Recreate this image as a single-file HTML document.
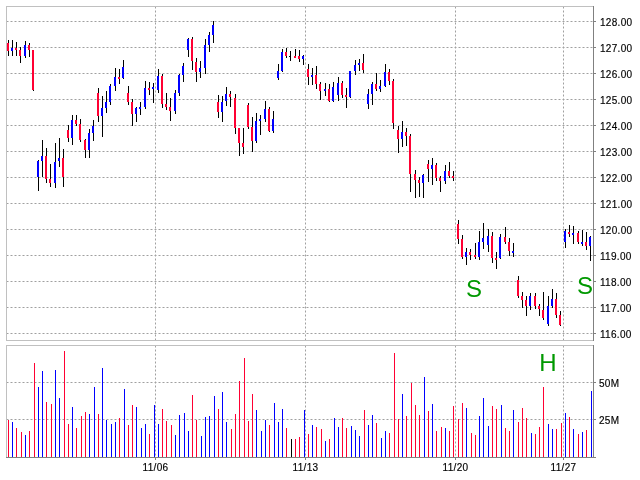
<!DOCTYPE html><html><head><meta charset="utf-8"><style>html,body{margin:0;padding:0;background:#fff;width:640px;height:480px;overflow:hidden}svg{display:block}text{font-family:"Liberation Sans",Arial,sans-serif}</style></head><body>
<svg width="640" height="480" viewBox="0 0 640 480">
<rect x="0" y="0" width="640" height="480" fill="#fff"/>
<g shape-rendering="crispEdges">
</g><g>
<line x1="6.5" y1="21.5" x2="593" y2="21.5" stroke="#a0a0a0" stroke-width="1" stroke-dasharray="2 2"/>
<line x1="6.5" y1="47.5" x2="593" y2="47.5" stroke="#a0a0a0" stroke-width="1" stroke-dasharray="2 2"/>
<line x1="6.5" y1="73.5" x2="593" y2="73.5" stroke="#a0a0a0" stroke-width="1" stroke-dasharray="2 2"/>
<line x1="6.5" y1="99.5" x2="593" y2="99.5" stroke="#a0a0a0" stroke-width="1" stroke-dasharray="2 2"/>
<line x1="6.5" y1="125.5" x2="593" y2="125.5" stroke="#a0a0a0" stroke-width="1" stroke-dasharray="2 2"/>
<line x1="6.5" y1="151.5" x2="593" y2="151.5" stroke="#a0a0a0" stroke-width="1" stroke-dasharray="2 2"/>
<line x1="6.5" y1="177.5" x2="593" y2="177.5" stroke="#a0a0a0" stroke-width="1" stroke-dasharray="2 2"/>
<line x1="6.5" y1="203.5" x2="593" y2="203.5" stroke="#a0a0a0" stroke-width="1" stroke-dasharray="2 2"/>
<line x1="6.5" y1="229.5" x2="593" y2="229.5" stroke="#a0a0a0" stroke-width="1" stroke-dasharray="2 2"/>
<line x1="6.5" y1="255.5" x2="593" y2="255.5" stroke="#a0a0a0" stroke-width="1" stroke-dasharray="2 2"/>
<line x1="6.5" y1="281.5" x2="593" y2="281.5" stroke="#a0a0a0" stroke-width="1" stroke-dasharray="2 2"/>
<line x1="6.5" y1="307.5" x2="593" y2="307.5" stroke="#a0a0a0" stroke-width="1" stroke-dasharray="2 2"/>
<line x1="6.5" y1="333.5" x2="593" y2="333.5" stroke="#a0a0a0" stroke-width="1" stroke-dasharray="2 2"/>
<line x1="6.5" y1="382.5" x2="593" y2="382.5" stroke="#a0a0a0" stroke-width="1" stroke-dasharray="2 2"/>
<line x1="6.5" y1="419.5" x2="593" y2="419.5" stroke="#a0a0a0" stroke-width="1" stroke-dasharray="2 2"/>
<line x1="155.5" y1="6.5" x2="155.5" y2="340" stroke="#a0a0a0" stroke-width="1" stroke-dasharray="2 2"/>
<line x1="155.5" y1="345.5" x2="155.5" y2="457" stroke="#a0a0a0" stroke-width="1" stroke-dasharray="2 2"/>
<line x1="305.5" y1="6.5" x2="305.5" y2="340" stroke="#a0a0a0" stroke-width="1" stroke-dasharray="2 2"/>
<line x1="305.5" y1="345.5" x2="305.5" y2="457" stroke="#a0a0a0" stroke-width="1" stroke-dasharray="2 2"/>
<line x1="455.5" y1="6.5" x2="455.5" y2="340" stroke="#a0a0a0" stroke-width="1" stroke-dasharray="2 2"/>
<line x1="455.5" y1="345.5" x2="455.5" y2="457" stroke="#a0a0a0" stroke-width="1" stroke-dasharray="2 2"/>
<line x1="563.5" y1="6.5" x2="563.5" y2="340" stroke="#a0a0a0" stroke-width="1" stroke-dasharray="2 2"/>
<line x1="563.5" y1="345.5" x2="563.5" y2="457" stroke="#a0a0a0" stroke-width="1" stroke-dasharray="2 2"/>
</g><g shape-rendering="crispEdges">
<rect x="6" y="6" width="588" height="1" fill="#c0c0c0"/>
<rect x="6" y="6" width="1" height="335" fill="#c0c0c0"/>
<rect x="6" y="340" width="588" height="1" fill="#c0c0c0"/>
<rect x="593" y="6" width="1" height="335" fill="#808080"/>
<rect x="6" y="345" width="588" height="1" fill="#c0c0c0"/>
<rect x="6" y="345" width="1" height="113" fill="#c0c0c0"/>
<rect x="6" y="457" width="590" height="1" fill="#808080"/>
<rect x="593" y="345" width="1" height="113" fill="#808080"/>
<rect x="594" y="21" width="2" height="1" fill="#808080"/>
<rect x="594" y="47" width="2" height="1" fill="#808080"/>
<rect x="594" y="73" width="2" height="1" fill="#808080"/>
<rect x="594" y="99" width="2" height="1" fill="#808080"/>
<rect x="594" y="125" width="2" height="1" fill="#808080"/>
<rect x="594" y="151" width="2" height="1" fill="#808080"/>
<rect x="594" y="177" width="2" height="1" fill="#808080"/>
<rect x="594" y="203" width="2" height="1" fill="#808080"/>
<rect x="594" y="229" width="2" height="1" fill="#808080"/>
<rect x="594" y="255" width="2" height="1" fill="#808080"/>
<rect x="594" y="281" width="2" height="1" fill="#808080"/>
<rect x="594" y="307" width="2" height="1" fill="#808080"/>
<rect x="594" y="333" width="2" height="1" fill="#808080"/>
<rect x="594" y="382" width="2" height="1" fill="#808080"/>
<rect x="594" y="419" width="2" height="1" fill="#808080"/>
<rect x="155" y="458" width="1" height="2" fill="#808080"/>
<rect x="305" y="458" width="1" height="2" fill="#808080"/>
<rect x="455" y="458" width="1" height="2" fill="#808080"/>
<rect x="563" y="458" width="1" height="2" fill="#808080"/>
</g>
<g shape-rendering="crispEdges">
<rect x="464" y="275" width="22" height="26" fill="#fff"/>
<rect x="573" y="272" width="20" height="26" fill="#fff"/>
<rect x="537" y="350" width="22" height="25" fill="#fff"/>
</g>
<text x="474" y="297" font-size="24" fill="#009900" text-anchor="middle">S</text>
<text x="585" y="294" font-size="24" fill="#009900" text-anchor="middle">S</text>
<text x="547.9" y="371" font-size="24" fill="#009900" text-anchor="middle">H</text>
<g shape-rendering="crispEdges">
<rect x="8" y="40" width="1" height="16" fill="#000"/>
<rect x="7" y="43" width="2" height="8" fill="#ff0033"/>
<rect x="8" y="420" width="1" height="37" fill="#ff0033"/>
<rect x="12" y="40" width="1" height="16" fill="#000"/>
<rect x="11" y="48" width="2" height="3" fill="#0000ff"/>
<rect x="12" y="422" width="1" height="35" fill="#0000ff"/>
<rect x="16" y="42" width="1" height="14" fill="#000"/>
<rect x="15" y="48" width="2" height="2" fill="#ff0033"/>
<rect x="16" y="428" width="1" height="29" fill="#ff0033"/>
<rect x="20" y="47" width="1" height="16" fill="#000"/>
<rect x="19" y="50" width="2" height="6" fill="#ff0033"/>
<rect x="21" y="432" width="1" height="25" fill="#ff0033"/>
<rect x="25" y="41" width="1" height="17" fill="#000"/>
<rect x="24" y="45" width="2" height="11" fill="#0000ff"/>
<rect x="25" y="435" width="1" height="22" fill="#0000ff"/>
<rect x="29" y="43" width="1" height="14" fill="#000"/>
<rect x="28" y="45" width="2" height="5" fill="#ff0033"/>
<rect x="29" y="431" width="1" height="26" fill="#ff0033"/>
<rect x="33" y="50" width="1" height="41" fill="#000"/>
<rect x="32" y="50" width="2" height="40" fill="#ff0033"/>
<rect x="34" y="363" width="1" height="94" fill="#ff0033"/>
<rect x="38" y="160" width="1" height="31" fill="#000"/>
<rect x="37" y="161" width="2" height="16" fill="#0000ff"/>
<rect x="38" y="387" width="1" height="70" fill="#0000ff"/>
<rect x="42" y="140" width="1" height="37" fill="#000"/>
<rect x="41" y="156" width="2" height="5" fill="#0000ff"/>
<rect x="42" y="371" width="1" height="86" fill="#0000ff"/>
<rect x="46" y="148" width="1" height="35" fill="#000"/>
<rect x="45" y="156" width="2" height="23" fill="#ff0033"/>
<rect x="46" y="402" width="1" height="55" fill="#ff0033"/>
<rect x="50" y="164" width="1" height="23" fill="#000"/>
<rect x="49" y="179" width="2" height="4" fill="#ff0033"/>
<rect x="51" y="404" width="1" height="53" fill="#ff0033"/>
<rect x="55" y="143" width="1" height="45" fill="#000"/>
<rect x="54" y="162" width="2" height="21" fill="#0000ff"/>
<rect x="55" y="370" width="1" height="87" fill="#0000ff"/>
<rect x="59" y="138" width="1" height="29" fill="#000"/>
<rect x="58" y="158" width="2" height="3" fill="#0000ff"/>
<rect x="59" y="398" width="1" height="59" fill="#0000ff"/>
<rect x="63" y="149" width="1" height="38" fill="#000"/>
<rect x="62" y="158" width="2" height="19" fill="#ff0033"/>
<rect x="64" y="351" width="1" height="106" fill="#ff0033"/>
<rect x="68" y="125" width="1" height="17" fill="#000"/>
<rect x="67" y="130" width="2" height="8" fill="#ff0033"/>
<rect x="68" y="424" width="1" height="33" fill="#ff0033"/>
<rect x="72" y="115" width="1" height="30" fill="#000"/>
<rect x="71" y="120" width="2" height="18" fill="#0000ff"/>
<rect x="72" y="407" width="1" height="50" fill="#0000ff"/>
<rect x="76" y="115" width="1" height="11" fill="#000"/>
<rect x="75" y="120" width="2" height="4" fill="#ff0033"/>
<rect x="76" y="428" width="1" height="29" fill="#ff0033"/>
<rect x="80" y="119" width="1" height="23" fill="#000"/>
<rect x="79" y="124" width="2" height="16" fill="#ff0033"/>
<rect x="81" y="416" width="1" height="41" fill="#ff0033"/>
<rect x="85" y="139" width="1" height="19" fill="#000"/>
<rect x="84" y="140" width="2" height="10" fill="#ff0033"/>
<rect x="85" y="412" width="1" height="45" fill="#ff0033"/>
<rect x="89" y="129" width="1" height="29" fill="#000"/>
<rect x="88" y="133" width="2" height="17" fill="#0000ff"/>
<rect x="89" y="414" width="1" height="43" fill="#0000ff"/>
<rect x="93" y="120" width="1" height="21" fill="#000"/>
<rect x="92" y="126" width="2" height="7" fill="#0000ff"/>
<rect x="94" y="387" width="1" height="70" fill="#0000ff"/>
<rect x="98" y="88" width="1" height="34" fill="#000"/>
<rect x="97" y="93" width="2" height="23" fill="#ff0033"/>
<rect x="98" y="414" width="1" height="43" fill="#ff0033"/>
<rect x="102" y="96" width="1" height="41" fill="#000"/>
<rect x="101" y="108" width="2" height="8" fill="#0000ff"/>
<rect x="102" y="368" width="1" height="89" fill="#0000ff"/>
<rect x="106" y="91" width="1" height="22" fill="#000"/>
<rect x="105" y="102" width="2" height="6" fill="#0000ff"/>
<rect x="106" y="420" width="1" height="37" fill="#0000ff"/>
<rect x="110" y="84" width="1" height="21" fill="#000"/>
<rect x="109" y="86" width="2" height="16" fill="#0000ff"/>
<rect x="111" y="424" width="1" height="33" fill="#0000ff"/>
<rect x="115" y="68" width="1" height="23" fill="#000"/>
<rect x="114" y="77" width="2" height="9" fill="#0000ff"/>
<rect x="115" y="422" width="1" height="35" fill="#0000ff"/>
<rect x="119" y="69" width="1" height="15" fill="#000"/>
<rect x="118" y="77" width="2" height="2" fill="#ff0033"/>
<rect x="119" y="418" width="1" height="39" fill="#ff0033"/>
<rect x="123" y="60" width="1" height="19" fill="#000"/>
<rect x="122" y="67" width="2" height="11" fill="#0000ff"/>
<rect x="124" y="389" width="1" height="68" fill="#0000ff"/>
<rect x="128" y="86" width="1" height="19" fill="#000"/>
<rect x="127" y="93" width="2" height="9" fill="#ff0033"/>
<rect x="128" y="425" width="1" height="32" fill="#ff0033"/>
<rect x="132" y="99" width="1" height="27" fill="#000"/>
<rect x="131" y="102" width="2" height="12" fill="#ff0033"/>
<rect x="132" y="405" width="1" height="52" fill="#ff0033"/>
<rect x="136" y="107" width="1" height="15" fill="#000"/>
<rect x="135" y="108" width="2" height="6" fill="#0000ff"/>
<rect x="136" y="407" width="1" height="50" fill="#0000ff"/>
<rect x="140" y="102" width="1" height="13" fill="#000"/>
<rect x="139" y="107" width="2" height="2" fill="#0000ff"/>
<rect x="141" y="428" width="1" height="29" fill="#0000ff"/>
<rect x="145" y="81" width="1" height="28" fill="#000"/>
<rect x="144" y="88" width="2" height="19" fill="#0000ff"/>
<rect x="145" y="424" width="1" height="33" fill="#0000ff"/>
<rect x="149" y="82" width="1" height="13" fill="#000"/>
<rect x="148" y="88" width="2" height="2" fill="#ff0033"/>
<rect x="149" y="434" width="1" height="23" fill="#ff0033"/>
<rect x="153" y="83" width="1" height="20" fill="#000"/>
<rect x="152" y="87" width="2" height="2" fill="#0000ff"/>
<rect x="154" y="405" width="1" height="52" fill="#0000ff"/>
<rect x="158" y="69" width="1" height="24" fill="#000"/>
<rect x="157" y="76" width="2" height="14" fill="#0000ff"/>
<rect x="158" y="424" width="1" height="33" fill="#0000ff"/>
<rect x="162" y="74" width="1" height="34" fill="#000"/>
<rect x="161" y="76" width="2" height="28" fill="#ff0033"/>
<rect x="162" y="409" width="1" height="48" fill="#ff0033"/>
<rect x="166" y="93" width="1" height="17" fill="#000"/>
<rect x="165" y="104" width="2" height="3" fill="#ff0033"/>
<rect x="166" y="421" width="1" height="36" fill="#ff0033"/>
<rect x="170" y="98" width="1" height="23" fill="#000"/>
<rect x="169" y="107" width="2" height="4" fill="#ff0033"/>
<rect x="171" y="425" width="1" height="32" fill="#ff0033"/>
<rect x="175" y="90" width="1" height="24" fill="#000"/>
<rect x="174" y="93" width="2" height="18" fill="#0000ff"/>
<rect x="175" y="435" width="1" height="22" fill="#0000ff"/>
<rect x="179" y="74" width="1" height="22" fill="#000"/>
<rect x="178" y="75" width="2" height="18" fill="#0000ff"/>
<rect x="179" y="415" width="1" height="42" fill="#0000ff"/>
<rect x="183" y="63" width="1" height="19" fill="#000"/>
<rect x="182" y="66" width="2" height="9" fill="#0000ff"/>
<rect x="184" y="413" width="1" height="44" fill="#0000ff"/>
<rect x="188" y="38" width="1" height="19" fill="#000"/>
<rect x="187" y="39" width="2" height="11" fill="#0000ff"/>
<rect x="188" y="431" width="1" height="26" fill="#0000ff"/>
<rect x="192" y="37" width="1" height="33" fill="#000"/>
<rect x="191" y="39" width="2" height="22" fill="#ff0033"/>
<rect x="192" y="395" width="1" height="62" fill="#ff0033"/>
<rect x="196" y="58" width="1" height="24" fill="#000"/>
<rect x="195" y="62" width="2" height="10" fill="#ff0033"/>
<rect x="196" y="420" width="1" height="37" fill="#ff0033"/>
<rect x="200" y="61" width="1" height="17" fill="#000"/>
<rect x="199" y="68" width="2" height="4" fill="#0000ff"/>
<rect x="201" y="436" width="1" height="21" fill="#0000ff"/>
<rect x="205" y="39" width="1" height="35" fill="#000"/>
<rect x="204" y="45" width="2" height="23" fill="#0000ff"/>
<rect x="205" y="417" width="1" height="40" fill="#0000ff"/>
<rect x="209" y="32" width="1" height="20" fill="#000"/>
<rect x="208" y="35" width="2" height="10" fill="#0000ff"/>
<rect x="209" y="416" width="1" height="41" fill="#0000ff"/>
<rect x="213" y="21" width="1" height="22" fill="#000"/>
<rect x="212" y="25" width="2" height="10" fill="#0000ff"/>
<rect x="214" y="396" width="1" height="61" fill="#0000ff"/>
<rect x="218" y="95" width="1" height="23" fill="#000"/>
<rect x="217" y="102" width="2" height="10" fill="#ff0033"/>
<rect x="218" y="409" width="1" height="48" fill="#ff0033"/>
<rect x="222" y="96" width="1" height="26" fill="#000"/>
<rect x="221" y="102" width="2" height="10" fill="#0000ff"/>
<rect x="222" y="392" width="1" height="65" fill="#0000ff"/>
<rect x="226" y="87" width="1" height="19" fill="#000"/>
<rect x="225" y="94" width="2" height="7" fill="#0000ff"/>
<rect x="226" y="422" width="1" height="35" fill="#0000ff"/>
<rect x="230" y="91" width="1" height="16" fill="#000"/>
<rect x="229" y="94" width="2" height="3" fill="#ff0033"/>
<rect x="231" y="429" width="1" height="28" fill="#ff0033"/>
<rect x="235" y="94" width="1" height="40" fill="#000"/>
<rect x="234" y="98" width="2" height="30" fill="#ff0033"/>
<rect x="235" y="414" width="1" height="43" fill="#ff0033"/>
<rect x="239" y="128" width="1" height="28" fill="#000"/>
<rect x="238" y="128" width="2" height="15" fill="#ff0033"/>
<rect x="239" y="381" width="1" height="76" fill="#ff0033"/>
<rect x="243" y="128" width="1" height="26" fill="#000"/>
<rect x="242" y="143" width="2" height="4" fill="#ff0033"/>
<rect x="244" y="358" width="1" height="99" fill="#ff0033"/>
<rect x="248" y="103" width="1" height="26" fill="#000"/>
<rect x="247" y="105" width="2" height="22" fill="#ff0033"/>
<rect x="248" y="421" width="1" height="36" fill="#ff0033"/>
<rect x="252" y="117" width="1" height="35" fill="#000"/>
<rect x="251" y="127" width="2" height="14" fill="#ff0033"/>
<rect x="252" y="394" width="1" height="63" fill="#ff0033"/>
<rect x="256" y="113" width="1" height="30" fill="#000"/>
<rect x="255" y="121" width="2" height="20" fill="#0000ff"/>
<rect x="256" y="410" width="1" height="47" fill="#0000ff"/>
<rect x="260" y="115" width="1" height="20" fill="#000"/>
<rect x="259" y="119" width="2" height="2" fill="#0000ff"/>
<rect x="261" y="431" width="1" height="26" fill="#0000ff"/>
<rect x="265" y="101" width="1" height="21" fill="#000"/>
<rect x="264" y="109" width="2" height="10" fill="#0000ff"/>
<rect x="265" y="420" width="1" height="37" fill="#0000ff"/>
<rect x="269" y="107" width="1" height="25" fill="#000"/>
<rect x="268" y="109" width="2" height="22" fill="#ff0033"/>
<rect x="269" y="425" width="1" height="32" fill="#ff0033"/>
<rect x="273" y="111" width="1" height="22" fill="#000"/>
<rect x="272" y="119" width="2" height="12" fill="#0000ff"/>
<rect x="274" y="403" width="1" height="54" fill="#0000ff"/>
<rect x="278" y="64" width="1" height="16" fill="#000"/>
<rect x="277" y="71" width="2" height="7" fill="#0000ff"/>
<rect x="278" y="422" width="1" height="35" fill="#0000ff"/>
<rect x="282" y="49" width="1" height="23" fill="#000"/>
<rect x="281" y="52" width="2" height="19" fill="#0000ff"/>
<rect x="282" y="409" width="1" height="48" fill="#0000ff"/>
<rect x="286" y="48" width="1" height="10" fill="#000"/>
<rect x="285" y="52" width="2" height="4" fill="#ff0033"/>
<rect x="286" y="428" width="1" height="29" fill="#ff0033"/>
<rect x="290" y="51" width="1" height="10" fill="#000"/>
<rect x="289" y="56" width="2" height="1" fill="#000000"/>
<rect x="291" y="439" width="1" height="18" fill="#000000"/>
<rect x="295" y="49" width="1" height="9" fill="#000"/>
<rect x="294" y="56" width="2" height="2" fill="#ff0033"/>
<rect x="295" y="439" width="1" height="18" fill="#ff0033"/>
<rect x="299" y="50" width="1" height="12" fill="#000"/>
<rect x="298" y="56" width="2" height="3" fill="#ff0033"/>
<rect x="299" y="437" width="1" height="20" fill="#ff0033"/>
<rect x="303" y="55" width="1" height="10" fill="#000"/>
<rect x="302" y="56" width="2" height="3" fill="#0000ff"/>
<rect x="304" y="410" width="1" height="47" fill="#0000ff"/>
<rect x="308" y="64" width="1" height="21" fill="#000"/>
<rect x="307" y="69" width="2" height="8" fill="#ff0033"/>
<rect x="308" y="434" width="1" height="23" fill="#ff0033"/>
<rect x="312" y="68" width="1" height="17" fill="#000"/>
<rect x="311" y="75" width="2" height="2" fill="#0000ff"/>
<rect x="312" y="425" width="1" height="32" fill="#0000ff"/>
<rect x="316" y="66" width="1" height="23" fill="#000"/>
<rect x="315" y="75" width="2" height="9" fill="#ff0033"/>
<rect x="316" y="427" width="1" height="30" fill="#ff0033"/>
<rect x="320" y="82" width="1" height="18" fill="#000"/>
<rect x="319" y="84" width="2" height="7" fill="#ff0033"/>
<rect x="321" y="429" width="1" height="28" fill="#ff0033"/>
<rect x="325" y="83" width="1" height="13" fill="#000"/>
<rect x="324" y="89" width="2" height="2" fill="#0000ff"/>
<rect x="325" y="441" width="1" height="16" fill="#0000ff"/>
<rect x="329" y="84" width="1" height="18" fill="#000"/>
<rect x="328" y="89" width="2" height="12" fill="#ff0033"/>
<rect x="329" y="439" width="1" height="18" fill="#ff0033"/>
<rect x="333" y="82" width="1" height="20" fill="#000"/>
<rect x="332" y="87" width="2" height="14" fill="#0000ff"/>
<rect x="334" y="418" width="1" height="39" fill="#0000ff"/>
<rect x="338" y="77" width="1" height="24" fill="#000"/>
<rect x="337" y="83" width="2" height="12" fill="#0000ff"/>
<rect x="338" y="427" width="1" height="30" fill="#0000ff"/>
<rect x="342" y="81" width="1" height="17" fill="#000"/>
<rect x="341" y="83" width="2" height="12" fill="#ff0033"/>
<rect x="342" y="418" width="1" height="39" fill="#ff0033"/>
<rect x="346" y="88" width="1" height="20" fill="#000"/>
<rect x="345" y="95" width="2" height="2" fill="#ff0033"/>
<rect x="346" y="428" width="1" height="29" fill="#ff0033"/>
<rect x="350" y="71" width="1" height="27" fill="#000"/>
<rect x="349" y="71" width="2" height="26" fill="#0000ff"/>
<rect x="351" y="426" width="1" height="31" fill="#0000ff"/>
<rect x="355" y="60" width="1" height="15" fill="#000"/>
<rect x="354" y="65" width="2" height="6" fill="#0000ff"/>
<rect x="355" y="430" width="1" height="27" fill="#0000ff"/>
<rect x="359" y="59" width="1" height="12" fill="#000"/>
<rect x="358" y="63" width="2" height="2" fill="#0000ff"/>
<rect x="359" y="436" width="1" height="21" fill="#0000ff"/>
<rect x="363" y="54" width="1" height="19" fill="#000"/>
<rect x="362" y="63" width="2" height="7" fill="#ff0033"/>
<rect x="364" y="410" width="1" height="47" fill="#ff0033"/>
<rect x="368" y="89" width="1" height="20" fill="#000"/>
<rect x="367" y="94" width="2" height="10" fill="#0000ff"/>
<rect x="368" y="425" width="1" height="32" fill="#0000ff"/>
<rect x="372" y="82" width="1" height="23" fill="#000"/>
<rect x="371" y="84" width="2" height="10" fill="#0000ff"/>
<rect x="372" y="415" width="1" height="42" fill="#0000ff"/>
<rect x="376" y="73" width="1" height="18" fill="#000"/>
<rect x="375" y="84" width="2" height="5" fill="#ff0033"/>
<rect x="376" y="423" width="1" height="34" fill="#ff0033"/>
<rect x="380" y="80" width="1" height="12" fill="#000"/>
<rect x="379" y="86" width="2" height="3" fill="#0000ff"/>
<rect x="381" y="438" width="1" height="19" fill="#0000ff"/>
<rect x="385" y="64" width="1" height="23" fill="#000"/>
<rect x="384" y="72" width="2" height="14" fill="#0000ff"/>
<rect x="385" y="431" width="1" height="26" fill="#0000ff"/>
<rect x="389" y="69" width="1" height="16" fill="#000"/>
<rect x="388" y="72" width="2" height="9" fill="#ff0033"/>
<rect x="389" y="433" width="1" height="24" fill="#ff0033"/>
<rect x="393" y="79" width="1" height="50" fill="#000"/>
<rect x="392" y="81" width="2" height="42" fill="#ff0033"/>
<rect x="394" y="353" width="1" height="104" fill="#ff0033"/>
<rect x="398" y="126" width="1" height="27" fill="#000"/>
<rect x="397" y="130" width="2" height="9" fill="#ff0033"/>
<rect x="398" y="419" width="1" height="38" fill="#ff0033"/>
<rect x="402" y="121" width="1" height="26" fill="#000"/>
<rect x="401" y="132" width="2" height="7" fill="#0000ff"/>
<rect x="402" y="394" width="1" height="63" fill="#0000ff"/>
<rect x="406" y="128" width="1" height="18" fill="#000"/>
<rect x="405" y="132" width="2" height="4" fill="#ff0033"/>
<rect x="406" y="416" width="1" height="41" fill="#ff0033"/>
<rect x="410" y="134" width="1" height="58" fill="#000"/>
<rect x="409" y="136" width="2" height="38" fill="#ff0033"/>
<rect x="411" y="383" width="1" height="74" fill="#ff0033"/>
<rect x="415" y="170" width="1" height="28" fill="#000"/>
<rect x="414" y="174" width="2" height="6" fill="#ff0033"/>
<rect x="415" y="405" width="1" height="52" fill="#ff0033"/>
<rect x="419" y="177" width="1" height="20" fill="#000"/>
<rect x="418" y="180" width="2" height="3" fill="#ff0033"/>
<rect x="419" y="415" width="1" height="42" fill="#ff0033"/>
<rect x="423" y="174" width="1" height="24" fill="#000"/>
<rect x="422" y="175" width="2" height="8" fill="#0000ff"/>
<rect x="424" y="377" width="1" height="80" fill="#0000ff"/>
<rect x="428" y="160" width="1" height="22" fill="#000"/>
<rect x="427" y="164" width="2" height="5" fill="#ff0033"/>
<rect x="428" y="411" width="1" height="46" fill="#ff0033"/>
<rect x="432" y="158" width="1" height="27" fill="#000"/>
<rect x="431" y="165" width="2" height="4" fill="#0000ff"/>
<rect x="432" y="404" width="1" height="53" fill="#0000ff"/>
<rect x="436" y="163" width="1" height="18" fill="#000"/>
<rect x="435" y="165" width="2" height="13" fill="#ff0033"/>
<rect x="436" y="431" width="1" height="26" fill="#ff0033"/>
<rect x="440" y="176" width="1" height="16" fill="#000"/>
<rect x="439" y="178" width="2" height="3" fill="#ff0033"/>
<rect x="441" y="427" width="1" height="30" fill="#ff0033"/>
<rect x="445" y="165" width="1" height="19" fill="#000"/>
<rect x="444" y="171" width="2" height="10" fill="#0000ff"/>
<rect x="445" y="428" width="1" height="29" fill="#0000ff"/>
<rect x="449" y="162" width="1" height="16" fill="#000"/>
<rect x="448" y="171" width="2" height="5" fill="#ff0033"/>
<rect x="449" y="431" width="1" height="26" fill="#ff0033"/>
<rect x="453" y="171" width="1" height="10" fill="#000"/>
<rect x="452" y="176" width="2" height="2" fill="#ff0033"/>
<rect x="453" y="406" width="1" height="51" fill="#ff0033"/>
<rect x="458" y="220" width="1" height="24" fill="#000"/>
<rect x="457" y="224" width="2" height="15" fill="#ff0033"/>
<rect x="458" y="419" width="1" height="38" fill="#ff0033"/>
<rect x="462" y="235" width="1" height="24" fill="#000"/>
<rect x="461" y="239" width="2" height="18" fill="#ff0033"/>
<rect x="462" y="403" width="1" height="54" fill="#ff0033"/>
<rect x="466" y="248" width="1" height="17" fill="#000"/>
<rect x="465" y="252" width="2" height="5" fill="#0000ff"/>
<rect x="466" y="408" width="1" height="49" fill="#0000ff"/>
<rect x="470" y="249" width="1" height="11" fill="#000"/>
<rect x="469" y="252" width="2" height="3" fill="#ff0033"/>
<rect x="471" y="433" width="1" height="24" fill="#ff0033"/>
<rect x="475" y="243" width="1" height="16" fill="#000"/>
<rect x="474" y="255" width="2" height="2" fill="#ff0033"/>
<rect x="475" y="435" width="1" height="22" fill="#ff0033"/>
<rect x="479" y="231" width="1" height="29" fill="#000"/>
<rect x="478" y="242" width="2" height="15" fill="#0000ff"/>
<rect x="479" y="416" width="1" height="41" fill="#0000ff"/>
<rect x="483" y="223" width="1" height="26" fill="#000"/>
<rect x="482" y="238" width="2" height="4" fill="#0000ff"/>
<rect x="483" y="398" width="1" height="59" fill="#0000ff"/>
<rect x="488" y="229" width="1" height="23" fill="#000"/>
<rect x="487" y="236" width="2" height="9" fill="#0000ff"/>
<rect x="488" y="426" width="1" height="31" fill="#0000ff"/>
<rect x="492" y="232" width="1" height="31" fill="#000"/>
<rect x="491" y="236" width="2" height="22" fill="#ff0033"/>
<rect x="492" y="406" width="1" height="51" fill="#ff0033"/>
<rect x="496" y="252" width="1" height="17" fill="#000"/>
<rect x="495" y="258" width="2" height="2" fill="#ff0033"/>
<rect x="496" y="409" width="1" height="48" fill="#ff0033"/>
<rect x="500" y="234" width="1" height="25" fill="#000"/>
<rect x="499" y="237" width="2" height="21" fill="#0000ff"/>
<rect x="501" y="405" width="1" height="52" fill="#0000ff"/>
<rect x="505" y="227" width="1" height="17" fill="#000"/>
<rect x="504" y="237" width="2" height="5" fill="#ff0033"/>
<rect x="505" y="428" width="1" height="29" fill="#ff0033"/>
<rect x="509" y="238" width="1" height="18" fill="#000"/>
<rect x="508" y="242" width="2" height="9" fill="#ff0033"/>
<rect x="509" y="431" width="1" height="26" fill="#ff0033"/>
<rect x="513" y="243" width="1" height="14" fill="#000"/>
<rect x="512" y="251" width="2" height="2" fill="#0000ff"/>
<rect x="513" y="410" width="1" height="47" fill="#0000ff"/>
<rect x="518" y="276" width="1" height="22" fill="#000"/>
<rect x="517" y="280" width="2" height="16" fill="#ff0033"/>
<rect x="518" y="422" width="1" height="35" fill="#ff0033"/>
<rect x="522" y="292" width="1" height="16" fill="#000"/>
<rect x="521" y="296" width="2" height="4" fill="#ff0033"/>
<rect x="522" y="408" width="1" height="49" fill="#ff0033"/>
<rect x="526" y="296" width="1" height="20" fill="#000"/>
<rect x="525" y="300" width="2" height="6" fill="#ff0033"/>
<rect x="526" y="418" width="1" height="39" fill="#ff0033"/>
<rect x="530" y="293" width="1" height="17" fill="#000"/>
<rect x="529" y="296" width="2" height="10" fill="#0000ff"/>
<rect x="531" y="433" width="1" height="24" fill="#0000ff"/>
<rect x="535" y="293" width="1" height="16" fill="#000"/>
<rect x="534" y="296" width="2" height="10" fill="#ff0033"/>
<rect x="535" y="434" width="1" height="23" fill="#ff0033"/>
<rect x="539" y="304" width="1" height="12" fill="#000"/>
<rect x="538" y="306" width="2" height="3" fill="#ff0033"/>
<rect x="539" y="427" width="1" height="30" fill="#ff0033"/>
<rect x="543" y="292" width="1" height="28" fill="#000"/>
<rect x="542" y="310" width="2" height="8" fill="#ff0033"/>
<rect x="543" y="387" width="1" height="70" fill="#ff0033"/>
<rect x="548" y="296" width="1" height="30" fill="#000"/>
<rect x="547" y="306" width="2" height="18" fill="#0000ff"/>
<rect x="548" y="424" width="1" height="33" fill="#0000ff"/>
<rect x="552" y="289" width="1" height="19" fill="#000"/>
<rect x="551" y="299" width="2" height="7" fill="#0000ff"/>
<rect x="552" y="429" width="1" height="28" fill="#0000ff"/>
<rect x="556" y="293" width="1" height="25" fill="#000"/>
<rect x="555" y="299" width="2" height="16" fill="#ff0033"/>
<rect x="556" y="429" width="1" height="28" fill="#ff0033"/>
<rect x="560" y="311" width="1" height="15" fill="#000"/>
<rect x="559" y="315" width="2" height="10" fill="#ff0033"/>
<rect x="561" y="423" width="1" height="34" fill="#ff0033"/>
<rect x="565" y="229" width="1" height="19" fill="#000"/>
<rect x="564" y="231" width="2" height="11" fill="#0000ff"/>
<rect x="565" y="413" width="1" height="44" fill="#0000ff"/>
<rect x="569" y="225" width="1" height="12" fill="#000"/>
<rect x="568" y="232" width="2" height="2" fill="#ff0033"/>
<rect x="569" y="417" width="1" height="40" fill="#ff0033"/>
<rect x="573" y="226" width="1" height="18" fill="#000"/>
<rect x="572" y="233" width="2" height="2" fill="#0000ff"/>
<rect x="573" y="429" width="1" height="28" fill="#0000ff"/>
<rect x="578" y="231" width="1" height="13" fill="#000"/>
<rect x="577" y="233" width="2" height="9" fill="#ff0033"/>
<rect x="578" y="434" width="1" height="23" fill="#ff0033"/>
<rect x="582" y="230" width="1" height="16" fill="#000"/>
<rect x="581" y="242" width="2" height="2" fill="#0000ff"/>
<rect x="582" y="432" width="1" height="25" fill="#0000ff"/>
<rect x="586" y="232" width="1" height="18" fill="#000"/>
<rect x="585" y="242" width="2" height="4" fill="#ff0033"/>
<rect x="586" y="430" width="1" height="27" fill="#ff0033"/>
<rect x="590" y="236" width="1" height="25" fill="#000"/>
<rect x="589" y="237" width="2" height="9" fill="#0000ff"/>
<rect x="591" y="391" width="1" height="66" fill="#0000ff"/>
</g>
<text x="600" y="26" font-size="10" letter-spacing="0.3" fill="#000" stroke="#000" stroke-width="0.15">128.00</text>
<text x="600" y="52" font-size="10" letter-spacing="0.3" fill="#000" stroke="#000" stroke-width="0.15">127.00</text>
<text x="600" y="78" font-size="10" letter-spacing="0.3" fill="#000" stroke="#000" stroke-width="0.15">126.00</text>
<text x="600" y="104" font-size="10" letter-spacing="0.3" fill="#000" stroke="#000" stroke-width="0.15">125.00</text>
<text x="600" y="130" font-size="10" letter-spacing="0.3" fill="#000" stroke="#000" stroke-width="0.15">124.00</text>
<text x="600" y="156" font-size="10" letter-spacing="0.3" fill="#000" stroke="#000" stroke-width="0.15">123.00</text>
<text x="600" y="182" font-size="10" letter-spacing="0.3" fill="#000" stroke="#000" stroke-width="0.15">122.00</text>
<text x="600" y="208" font-size="10" letter-spacing="0.3" fill="#000" stroke="#000" stroke-width="0.15">121.00</text>
<text x="600" y="234" font-size="10" letter-spacing="0.3" fill="#000" stroke="#000" stroke-width="0.15">120.00</text>
<text x="600" y="260" font-size="10" letter-spacing="0.3" fill="#000" stroke="#000" stroke-width="0.15">119.00</text>
<text x="600" y="286" font-size="10" letter-spacing="0.3" fill="#000" stroke="#000" stroke-width="0.15">118.00</text>
<text x="600" y="312" font-size="10" letter-spacing="0.3" fill="#000" stroke="#000" stroke-width="0.15">117.00</text>
<text x="600" y="338" font-size="10" letter-spacing="0.3" fill="#000" stroke="#000" stroke-width="0.15">116.00</text>
<text x="599" y="387" font-size="10" letter-spacing="0.3" fill="#000" stroke="#000" stroke-width="0.15">50M</text>
<text x="599" y="424" font-size="10" letter-spacing="0.3" fill="#000" stroke="#000" stroke-width="0.15">25M</text>
<text x="155.5" y="471" font-size="10" letter-spacing="0.3" fill="#000" stroke="#000" stroke-width="0.15" text-anchor="middle">11/06</text>
<text x="305.5" y="471" font-size="10" letter-spacing="0.3" fill="#000" stroke="#000" stroke-width="0.15" text-anchor="middle">11/13</text>
<text x="455.5" y="471" font-size="10" letter-spacing="0.3" fill="#000" stroke="#000" stroke-width="0.15" text-anchor="middle">11/20</text>
<text x="563.5" y="471" font-size="10" letter-spacing="0.3" fill="#000" stroke="#000" stroke-width="0.15" text-anchor="middle">11/27</text>
</svg></body></html>
